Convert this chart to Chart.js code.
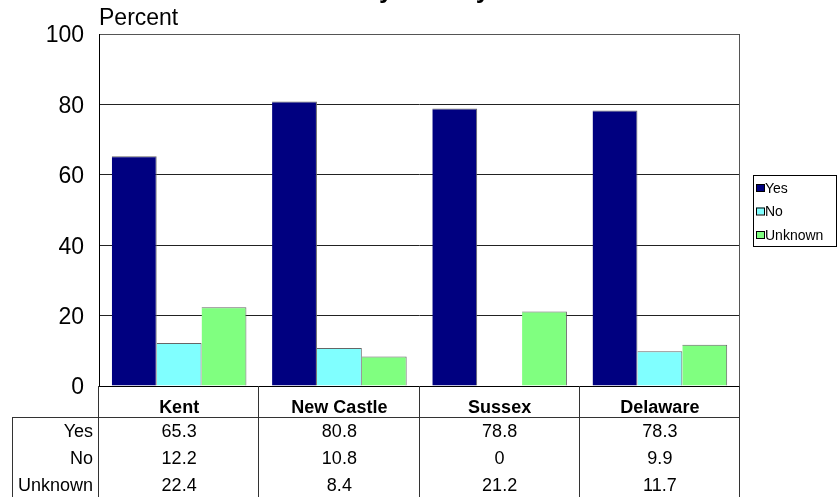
<!DOCTYPE html>
<html>
<head>
<meta charset="utf-8">
<script src="https://cdn.jsdelivr.net/npm/chart.js@4"></script>
<style>
  html, body { margin: 0; padding: 0; background: #fff; }
  #wrap { width: 838px; height: 497px; }
</style>
</head>
<body>
<div id="wrap"><canvas id="chart" width="838" height="497"></canvas></div>
<script>
// chart data
const counties = ['Kent', 'New Castle', 'Sussex', 'Delaware'];
const yesValues = [65.3, 80.8, 78.8, 78.3];
const noValues = [12.2, 10.8, 0, 9.9];
const unknownValues = [22.4, 8.4, 21.2, 11.7];
const seriesNames = ['Yes', 'No', 'Unknown'];
const seriesColors = ['#000080', '#80ffff', '#80ff80'];
const yTicks = [0, 20, 40, 60, 80, 100];

const FONT = '"Liberation Sans", Arial, sans-serif';

// draws the frame, the cut-off title, the axis caption, the legend and the data table
const extrasPlugin = {
    id: 'extras',
    afterDraw(chart) {
        const ctx = chart.ctx;
        const area = chart.chartArea;
        const x = chart.scales.x;
        const n = counties.length;
        const step = (area.right - area.left) / n;

        ctx.save();

        // title (only the descenders are inside the picture)
        ctx.fillStyle = '#000';
        ctx.font = 'bold 26px ' + FONT;
        ctx.textAlign = 'left';
        ctx.textBaseline = 'alphabetic';
        ctx.fillText('by County', 363, -2);

        // axis caption
        ctx.font = '23px ' + FONT;
        ctx.fillText('Percent', 99, 25);

        // plot frame
        ctx.lineWidth = 1;
        ctx.strokeStyle = '#555';
        ctx.beginPath();
        ctx.moveTo(area.left + 0.5, area.top + 0.5);
        ctx.lineTo(area.right - 0.5, area.top + 0.5);
        ctx.lineTo(area.right - 0.5, area.bottom);
        ctx.stroke();
        ctx.strokeStyle = '#000';
        ctx.beginPath();
        ctx.moveTo(area.left + 0.5, area.top);
        ctx.lineTo(area.left + 0.5, area.bottom + 0.5);
        ctx.lineTo(area.right, area.bottom + 0.5);
        ctx.stroke();

        // data table
        const tableTop = area.bottom;
        const headBottom = 417;
        const tableBottom = 497;
        const labelLeft = 12;
        ctx.strokeStyle = '#333';
        ctx.beginPath();
        ctx.moveTo(labelLeft, headBottom + 0.5);
        ctx.lineTo(area.right, headBottom + 0.5);
        ctx.moveTo(labelLeft + 0.5, headBottom);
        ctx.lineTo(labelLeft + 0.5, tableBottom);
        for (let i = 0; i <= n; i++) {
            const lx = Math.round(area.left + step * i) - 0.5;
            ctx.moveTo(lx, tableTop);
            ctx.lineTo(lx, tableBottom);
        }
        ctx.stroke();

        ctx.textAlign = 'center';
        ctx.textBaseline = 'middle';
        ctx.font = 'bold 18px ' + FONT;
        counties.forEach((c, i) => {
            ctx.fillText(c, x.getPixelForValue(i), 408);
        });

        const rows = [yesValues, noValues, unknownValues];
        const rowY = [432, 459, 486];
        ctx.font = '18px ' + FONT;
        rows.forEach((vals, r) => {
            ctx.textAlign = 'right';
            ctx.fillText(seriesNames[r], area.left - 6, rowY[r]);
            ctx.textAlign = 'center';
            vals.forEach((v, i) => {
                ctx.fillText(String(v), x.getPixelForValue(i), rowY[r]);
            });
        });

        // legend
        const lx = 753, ly = 175, lw = 84, lh = 71;
        ctx.strokeStyle = '#000';
        ctx.strokeRect(lx + 0.5, ly + 0.5, lw - 1, lh);
        ctx.font = '14px ' + FONT;
        ctx.textAlign = 'left';
        chart.data.datasets.forEach((ds, i) => {
            const iy = 188 + i * 23.5;
            ctx.fillStyle = ds.backgroundColor;
            ctx.fillRect(lx + 3, iy - 4, 8, 7);
            ctx.strokeStyle = '#000';
            ctx.strokeRect(lx + 3.5, iy - 3.5, 8, 7);
            ctx.fillStyle = '#000';
            ctx.fillText(ds.label, lx + 12, iy + 1);
        });

        ctx.restore();
    }
};

new Chart(document.getElementById('chart'), {
    type: 'bar',
    data: {
        labels: counties,
        datasets: [yesValues, noValues, unknownValues].map((vals, i) => ({
            label: seriesNames[i],
            data: vals,
            backgroundColor: seriesColors[i],
            borderColor: '#666',
            borderWidth: { top: 1, right: 1, left: 0, bottom: 0 },
            categoryPercentage: 0.84,
            barPercentage: 1
        }))
    },
    options: {
        responsive: false,
        animation: false,
        layout: { padding: { left: 0, top: 34, right: 98, bottom: 111 } },
        plugins: {
            legend: { display: false },
            tooltip: { enabled: false },
            title: { display: false }
        },
        scales: {
            x: {
                display: false
            },
            y: {
                min: 0,
                max: 100,
                afterFit(scale) { scale.width = 99; },
                afterBuildTicks(scale) { scale.ticks = yTicks.map(v => ({ value: v })); },
                border: { display: false },
                grid: { color: '#222', drawTicks: false },
                ticks: {
                    color: '#000',
                    padding: 15,
                    labelOffset: 2,
                    font: { family: FONT, size: 23 }
                }
            }
        }
    },
    plugins: [extrasPlugin]
});
</script>
</body>
</html>
